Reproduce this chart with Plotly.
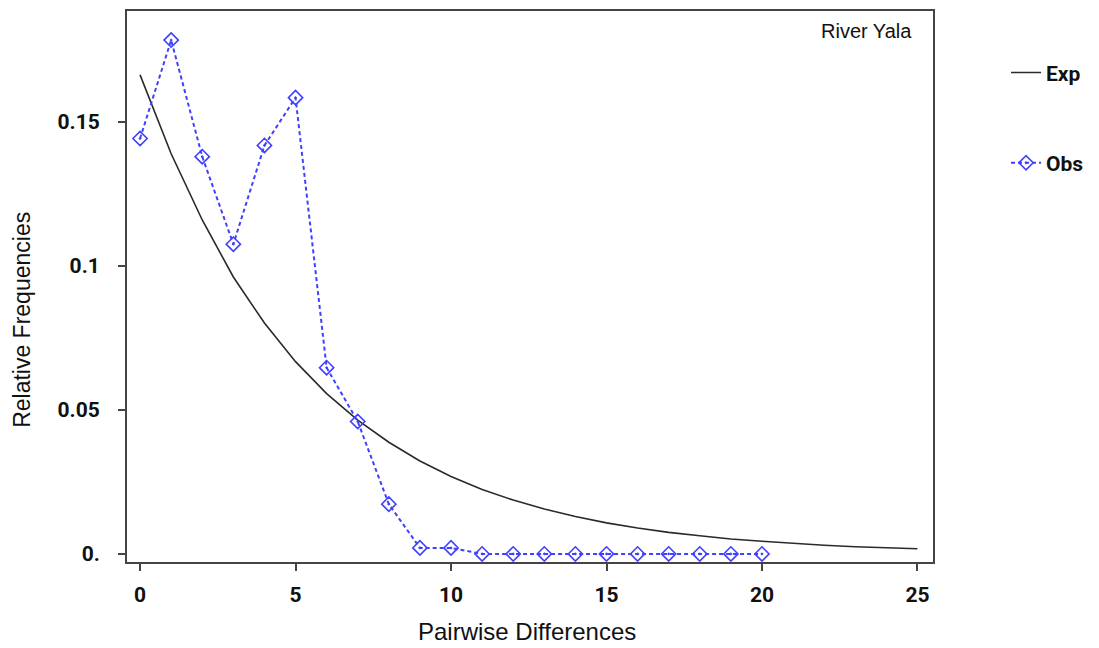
import plotly.graph_objects as go

# Observed mismatch distribution (River Yala)
obs_x = list(range(0, 21))
obs_y = [0.1443, 0.1785, 0.1380, 0.1076, 0.1419, 0.1585, 0.0647, 0.0460, 0.0173,
         0.0021, 0.0021, 0, 0, 0, 0, 0, 0, 0, 0, 0, 0]

# Expected curve
exp_x = list(range(0, 26))
exp_y = [0.1664, 0.1390, 0.1160, 0.0962, 0.0802, 0.0668, 0.0557, 0.0465, 0.0388,
         0.0323, 0.0269, 0.0224, 0.0187, 0.0156, 0.0130, 0.0108, 0.0090, 0.0075,
         0.0063, 0.0052, 0.0044, 0.0036, 0.0030, 0.0025, 0.0021, 0.0018]

x_ticks = [0, 5, 10, 15, 20, 25]
y_ticks = [0, 0.05, 0.1, 0.15]
y_ticktext = ["0.", "0.05", "0.1", "0.15"]

tick_font = dict(family="Roboto, Liberation Sans, sans-serif",
                 size=21, color="#111111", weight="bold")
title_family = "Liberation Sans, Arial, sans-serif"

fig = go.Figure()
fig.add_trace(go.Scatter(
    x=exp_x, y=exp_y, mode="lines", name="Exp",
    line=dict(color="#2a2a2a", width=1.6), legendgroup="a"))
fig.add_trace(go.Scatter(
    x=obs_x, y=obs_y, mode="lines+markers", name="Obs",
    line=dict(color="#4040ff", width=2, dash="4px,3px"),
    marker=dict(symbol="diamond-open-dot", size=11, color="#4040ff",
                line=dict(width=1.6, color="#4040ff")),
    legendgroup="b"))

fig.add_annotation(
    text="River Yala", xref="paper", yref="paper", x=0.9765, y=0.963,
    xanchor="right", yanchor="middle", showarrow=False,
    font=dict(family=title_family, size=20, color="#111111"))

fig.add_annotation(
    text="Pairwise Differences", xref="paper", yref="paper", x=0.4963, y=-0.1266,
    xanchor="center", yanchor="middle", showarrow=False,
    font=dict(family=title_family, size=24, color="#111111"))

fig.add_annotation(
    text="Relative Frequencies", xref="paper", yref="paper", x=-0.1303, y=0.4394,
    xanchor="center", yanchor="middle", showarrow=False, textangle=-90,
    font=dict(family=title_family, size=23, color="#111111"))

fig.update_layout(
    width=1091, height=640,
    margin=dict(l=119, r=166, t=1, b=86),
    paper_bgcolor="white", plot_bgcolor="white",
    showlegend=True,
    legend=dict(x=1.0906, y=0.925, xanchor="left", yanchor="top",
                traceorder="grouped", tracegroupgap=60,
                font=dict(family="Roboto, Liberation Sans, sans-serif",
                          size=21, color="#111111", weight="bold"),
                bgcolor="rgba(0,0,0,0)"),
    xaxis=dict(range=[-0.42, 25.5], tickvals=x_ticks, ticks="outside", ticklen=7,
               tickwidth=2, tickcolor="#444444", ticklabelstandoff=6,
               showline=True, linecolor="#444444", linewidth=2, mirror=True,
               showgrid=False, zeroline=False, tickfont=tick_font),
    yaxis=dict(range=[-0.0028, 0.1886], tickvals=y_ticks, ticktext=y_ticktext,
               ticks="outside", ticklen=7, tickwidth=2, tickcolor="#444444",
               ticklabelstandoff=14,
               showline=True, linecolor="#444444", linewidth=2, mirror=True,
               showgrid=False, zeroline=False, tickfont=tick_font),
)

fig.write_html("out.html")
